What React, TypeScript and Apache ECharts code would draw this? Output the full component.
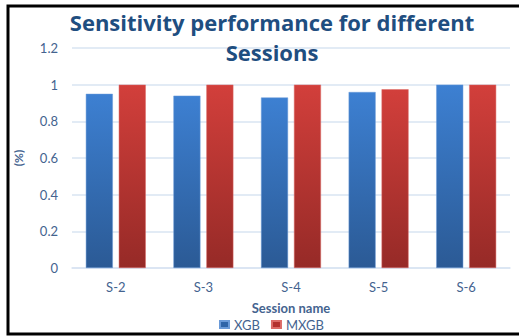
import React, { useEffect, useRef } from "react";
import * as echarts from "echarts";

const sessions = ["S-2", "S-3", "S-4", "S-5", "S-6"];
const xgb = [0.95, 0.94, 0.93, 0.96, 1.0];
const mxgb = [1.0, 1.0, 1.0, 0.975, 1.0];
const seriesNames = ["XGB", "MXGB"];

const labelColor = "#44638f";
const gridColor = "#d9e4f2";

const blueFill = new echarts.graphic.LinearGradient(0, 0, 0, 1, [
  { offset: 0, color: "#3d80d2" },
  { offset: 1, color: "#2b5a95" },
]);
const redFill = new echarts.graphic.LinearGradient(0, 0, 0, 1, [
  { offset: 0, color: "#d23f3b" },
  { offset: 1, color: "#962a27" },
]);

export default function App() {
  const ref = useRef<HTMLDivElement>(null);

  useEffect(() => {
    if (!ref.current) return;
    const chart = echarts.init(ref.current, undefined, { renderer: "svg" });
    chart.setOption({
      animation: false,
      backgroundColor: "#ffffff",
      textStyle: { fontFamily: "Lato" },
      title: {
        text: "Sensitivity performance for different\nSessions",
        left: 267,
        textAlign: "center",
        top: 2,
        textStyle: {
          fontFamily: "Open Sans",
          fontWeight: "bold",
          fontSize: 22,
          lineHeight: 30,
          color: "#1f4e80",
        },
      },
      graphic: [
        {
          type: "rect",
          shape: { x: 8, y: 6, width: 530, height: 328 },
          style: { fill: "none", stroke: "#000000", lineWidth: 3 },
          z: 100,
        },
      ],
      legend: {
        data: [
          { name: seriesNames[0], itemStyle: { color: "#2e64a8" } },
          { name: seriesNames[1], itemStyle: { color: "#b3302d" } },
        ],
        left: 219,
        top: 318,
        itemWidth: 9,
        itemHeight: 7,
        itemGap: 11,
        icon: "rect",
        textStyle: { color: labelColor, fontSize: 13 },
        padding: 0,
      },
      grid: { left: 72, right: 9, top: 48, bottom: 68 },
      xAxis: {
        type: "category",
        data: sessions,
        name: "Session name",
        nameLocation: "middle",
        nameGap: 33,
        nameTextStyle: { color: labelColor, fontWeight: "bold", fontSize: 13 },
        axisLine: { lineStyle: { color: gridColor, width: 1.5 } },
        axisTick: { show: false },
        axisLabel: { color: labelColor, fontSize: 13, margin: 12 },
      },
      yAxis: {
        type: "value",
        min: 0,
        max: 1.2,
        interval: 0.2,
        name: "(%)",
        nameLocation: "middle",
        nameGap: 48,
        nameRotate: 90,
        nameTextStyle: { color: labelColor, fontWeight: "bold", fontSize: 12 },
        axisLine: { show: false },
        axisTick: { show: false },
        axisLabel: {
          color: labelColor,
          fontSize: 13,
          margin: 14,
          formatter: (v: number) => String(Math.round(v * 10) / 10),
        },
        splitLine: { lineStyle: { color: gridColor, width: 1.5 } },
      },
      series: [
        {
          name: seriesNames[0],
          type: "bar",
          data: xgb,
          barWidth: 27,
          barGap: "22%",
          itemStyle: { color: blueFill, borderColor: "#6a9ad8", borderWidth: 0.5 },
        },
        {
          name: seriesNames[1],
          type: "bar",
          data: mxgb,
          barWidth: 27,
          itemStyle: { color: redFill, borderColor: "#dc6a66", borderWidth: 0.5 },
        },
      ],
    });
    return () => chart.dispose();
  }, []);

  return (
    <div
      ref={ref}
      style={{ position: "fixed", left: 0, top: 0, width: 519, height: 336 }}
    />
  );
}
